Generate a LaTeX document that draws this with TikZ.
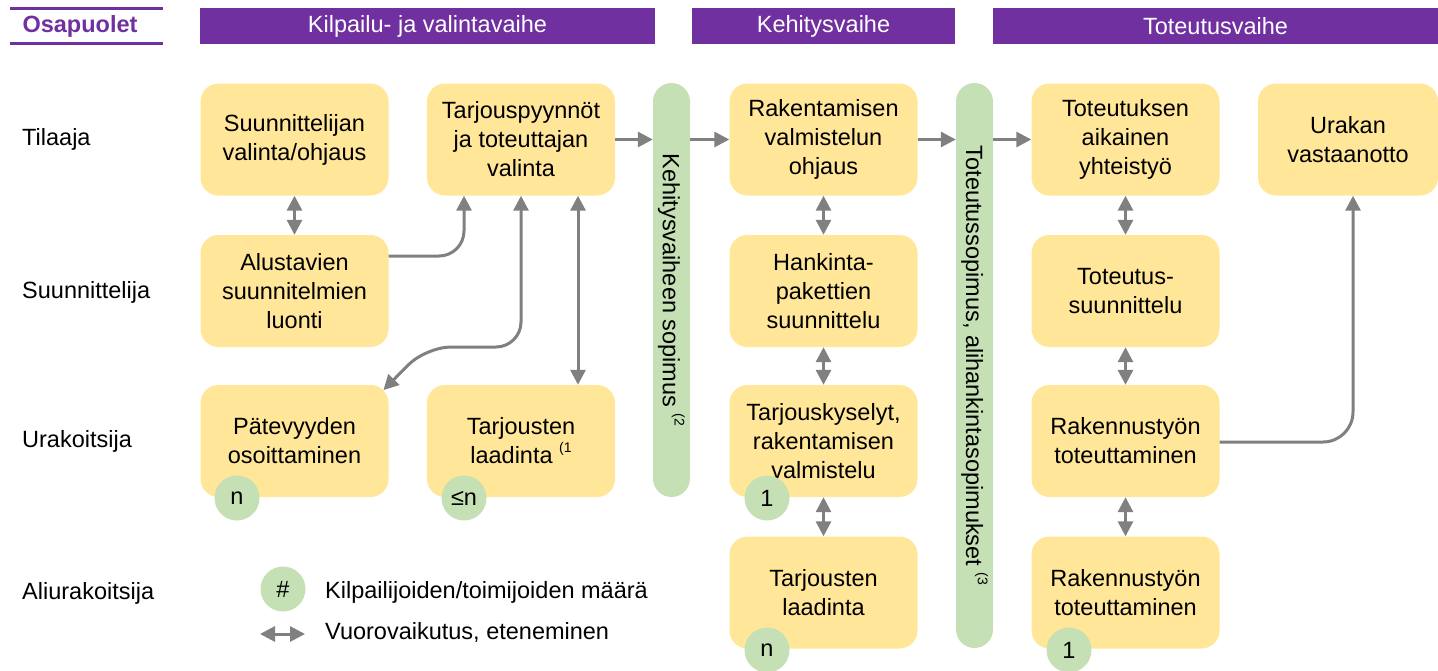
\documentclass[tikz,border=0pt]{standalone}
\usepackage{fontspec}
\setmainfont{Liberation Sans}
\usetikzlibrary{arrows.meta}
\definecolor{phasepurple}{HTML}{7030A0}
\definecolor{taskfill}{HTML}{FFE699}
\definecolor{contractfill}{HTML}{C5E0B4}
\definecolor{linegray}{HTML}{808080}
\newcommand\diagfont{\fontsize{23.5}{29}\selectfont}
\newcommand\fnref[1]{\raisebox{0.5em}{\fontsize{14}{14}\selectfont(#1}}
\begin{document}
\begin{tikzpicture}[x=1pt,y=-1pt,
  every node/.style={font=\diagfont, text=black},
  task/.style={fill=taskfill, rounded corners=18pt, minimum width=188pt,
    minimum height=112pt, inner sep=0pt, align=center},
  badge/.style={circle, fill=contractfill, minimum size=45pt, inner sep=0pt},
  contract/.style={fill=contractfill, rounded corners=18.5pt, rotate=-90,
    minimum height=37pt, inner sep=0pt},
  phasebar/.style={fill=phasepurple, minimum height=36pt, inner sep=0pt,
    text=white},
  rolelabel/.style={anchor=west, inner sep=0pt},
  tipshape/.tip={Triangle[length=15pt,width=15pt]},
  flow/.style={draw=linegray, line width=3pt, -tipshape},
  both/.style={draw=linegray, line width=3pt, tipshape-tipshape}]
\useasboundingbox (0,0) rectangle (1438,670);

% header: parties title and phase bars
\draw[phasepurple, line width=3pt] (10,8) -- (163,8);
\draw[phasepurple, line width=3pt] (10,43) -- (163,43);
\node[font=\diagfont\bfseries, text=phasepurple] (parties) at (80,26) {Osapuolet};
\node[phasebar, minimum width=455pt] (ph1) at (427.5,26) {Kilpailu- ja valintavaihe};
\node[phasebar, minimum width=263pt] (ph2) at (823.5,26) {Kehitysvaihe};
\node[phasebar, minimum width=445pt] (ph3) at (1215.5,26) {Toteutusvaihe};

% role labels
\node[rolelabel] (role1) at (22,139) {Tilaaja};
\node[rolelabel] (role2) at (22,292) {Suunnittelija};
\node[rolelabel] (role3) at (22,441) {Urakoitsija};
\node[rolelabel] (role4) at (22,593) {Aliurakoitsija};

% tasks
\node[task] (c1r1) at (294.5,139.5) {Suunnittelijan\\valinta/ohjaus};
\node[task] (c1r2) at (294.5,291) {Alustavien\\suunnitelmien\\luonti};
\node[task] (c1r3) at (294.5,441) {Pätevyyden\\osoittaminen};
\node[task] (c2r1) at (521,139.5) {Tarjouspyynnöt\\ja toteuttajan\\valinta};
\node[task] (c2r3) at (521,441) {Tarjousten\\laadinta \fnref{1}};
\node[task] (c3r1) at (823.5,139.5) {Rakentamisen\\valmistelun\\ohjaus};
\node[task] (c3r2) at (823.5,291) {Hankinta-\\pakettien\\suunnittelu};
\node[task] (c3r3) at (823.5,441) {Tarjouskyselyt,\\rakentamisen\\valmistelu};
\node[task] (c3r4) at (823.5,592.5) {Tarjousten\\laadinta};
\node[task] (c4r1) at (1125.5,139.5) {Toteutuksen\\aikainen\\yhteistyö};
\node[task] (c4r2) at (1125.5,291) {Toteutus-\\suunnittelu};
\node[task] (c4r3) at (1125.5,441) {Rakennustyön\\toteuttaminen};
\node[task] (c4r4) at (1125.5,592.5) {Rakennustyön\\toteuttaminen};
\node[task, minimum width=180pt] (c5r1) at (1348,139.5) {Urakan\\vastaanotto};

% contracts (rotated: south is the left edge, north the right edge)
\node[contract, minimum width=414pt] (k1) at (671.5,290) {Kehitysvaiheen sopimus \fnref{2}};
\node[contract, minimum width=565pt] (k2) at (974.5,365.5) {Toteutussopimus, alihankintasopimukset \fnref{3}};

% counts of participants
\node[badge] (b1) at (237,498) {n};
\node[badge] (b2) at (464,498) {≤n};
\node[badge] (b3) at (767,498) {1};
\node[badge] (b4) at (767,650) {n};
\node[badge] (b5) at (1069,650) {1};

% connectors
\draw[both] (c1r1) -- (c1r2);
\draw[flow, rounded corners=25pt] ([yshift=35pt]c1r2.east) -| ([xshift=-57pt]c2r1.south);
\coordinate (bendL) at (426,347);
\draw[both, rounded corners=25pt] (c2r1.south) |- (bendL)
  -- ([shift={(-5.3pt,-5.3pt)}]c1r3.north east);
\draw[both] ([xshift=57pt]c2r1.south) -- ([xshift=57pt]c2r3.north);
\draw[flow] (c2r1) -- (c2r1 -| k1.south);
\draw[flow] (c3r1 -| k1.north) -- (c3r1);
\draw[flow] (c3r1) -- (c3r1 -| k2.south);
\draw[flow] (c4r1 -| k2.north) -- (c4r1);
\draw[both] (c3r1) -- (c3r2);
\draw[both] (c3r2) -- (c3r3);
\draw[both] (c3r3) -- (c3r4);
\draw[both] (c4r1) -- (c4r2);
\draw[both] (c4r2) -- (c4r3);
\draw[both] (c4r3) -- (c4r4);
\draw[flow, rounded corners=30pt] ([yshift=-1pt]c4r3.east) -| ([xshift=5pt]c5r1.south);

% legend
\node[badge] (legbadge) at (283,589) {\#};
\node[anchor=west, inner sep=0pt] (legcount) at (325,592) {Kilpailijoiden/toimijoiden määrä};
\coordinate (legA) at (260,634);
\coordinate (legB) at (305,634);
\draw[both] (legA) -- (legB);
\node[anchor=west, inner sep=0pt] (legflow) at (325,632) {Vuorovaikutus, eteneminen};
\end{tikzpicture}
\end{document}
